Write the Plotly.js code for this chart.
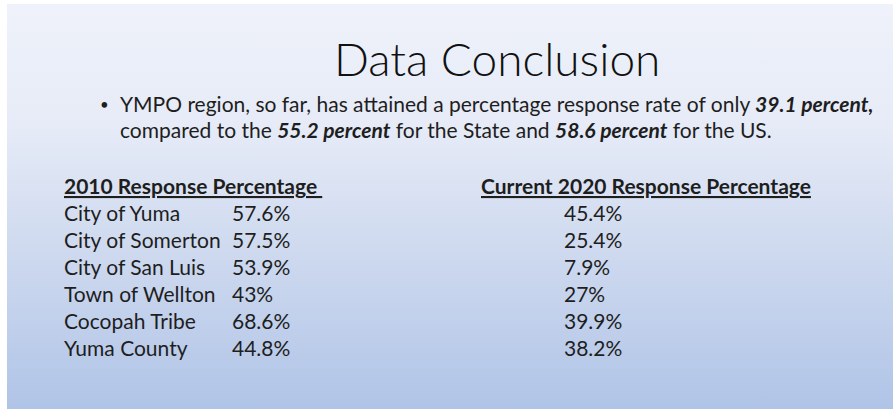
<!DOCTYPE html>
<html>
<head>
<meta charset="utf-8">
<script src="https://cdn.plot.ly/plotly-3.0.1.min.js"></script>
<style>
  html, body { margin: 0; padding: 0; background: #ffffff; }
  #wrap { position: relative; width: 893px; height: 409px; overflow: hidden; }
  #bg { position: absolute; left: 7px; top: 4px; right: 0; bottom: 0;
        background: linear-gradient(to bottom, #eff2fa 0%, #e6ebf7 30%, #cfdaef 60%, #b0c4e7 100%); }
  #plot { position: absolute; left: 0; top: 0; width: 893px; height: 409px; }
</style>
</head>
<body>
<div id="wrap"><div id="bg"></div><div id="plot"></div></div>
<script>
// ---- data ----
const slideTitle = 'Data Conclusion';
const places = ['City of Yuma', 'City of Somerton', 'City of San Luis', 'Town of Wellton', 'Cocopah Tribe', 'Yuma County'];
const pct2010 = [57.6, 57.5, 53.9, 43, 68.6, 44.8];
const pct2020 = [45.4, 25.4, 7.9, 27, 39.9, 38.2];
const headings = ['2010 Response Percentage', 'Current 2020 Response Percentage'];
const regionRate = 39.1;
const stateRate = 55.2;
const usRate = 58.6;

// ---- layout constants (positions / styles) ----
const FONT = 'Lato, "Liberation Sans", sans-serif';
const TXT = '#1e1e1e';
const BODY = 21;
const COL = { label: 62, v2010: 230, head2020: 479, v2020: 562 };
const fmt = v => v + '%';

const ann = [];
// title
ann.push({ xref: 'x', yref: 'y', x: 497, y: -4.75, text: slideTitle, showarrow: false,
  xanchor: 'center', yanchor: 'middle', font: { family: FONT, size: 46, weight: 300, color: '#111' } });
// bullet
ann.push({ xref: 'x', yref: 'y', x: 98, y: -3.05, text: '•', showarrow: false,
  xanchor: 'left', yanchor: 'middle', font: { family: FONT, size: 15, color: TXT } });
ann.push({ xref: 'x', yref: 'y', x: 118, y: -3.05,
  text: 'YMPO region, so far, has attained a percentage response rate of only <b><i>' + regionRate + ' percent,</i></b>',
  showarrow: false, xanchor: 'left', yanchor: 'middle', font: { family: FONT, size: BODY, color: TXT } });
ann.push({ xref: 'x', yref: 'y', x: 118, y: -2.1,
  text: 'compared to the <b><i>' + stateRate + ' percent</i></b> for the State and <b><i>' + usRate + ' percent</i></b> for the US.',
  showarrow: false, xanchor: 'left', yanchor: 'middle', font: { family: FONT, size: BODY, color: TXT } });
// headings
ann.push({ xref: 'x', yref: 'y', x: COL.label, y: 0, text: '<b><u>' + headings[0] + '&nbsp;</u></b>',
  showarrow: false, xanchor: 'left', yanchor: 'middle', font: { family: FONT, size: BODY, color: TXT } });
ann.push({ xref: 'x', yref: 'y', x: COL.head2020, y: 0, text: '<b><u>' + headings[1] + '</u></b>',
  showarrow: false, xanchor: 'left', yanchor: 'middle', font: { family: FONT, size: BODY, color: TXT } });
// rows
places.forEach((p, i) => {
  ann.push({ xref: 'x', yref: 'y', x: COL.label, y: i + 1, text: p, showarrow: false,
    xanchor: 'left', yanchor: 'middle', font: { family: FONT, size: BODY, color: TXT } });
  ann.push({ xref: 'x', yref: 'y', x: COL.v2010, y: i + 1, text: fmt(pct2010[i]), showarrow: false,
    xanchor: 'left', yanchor: 'middle', font: { family: FONT, size: BODY, color: TXT } });
  ann.push({ xref: 'x', yref: 'y', x: COL.v2020, y: i + 1, text: fmt(pct2020[i]), showarrow: false,
    xanchor: 'left', yanchor: 'middle', font: { family: FONT, size: BODY, color: TXT } });
});

const layout = {
  width: 893, height: 409,
  margin: { l: 0, r: 0, t: 0, b: 0 },
  paper_bgcolor: 'rgba(0,0,0,0)', plot_bgcolor: 'rgba(0,0,0,0)',
  showlegend: false,
  xaxis: { range: [0, 893], visible: false, fixedrange: true },
  yaxis: { range: [8.29, -6.914], visible: false, fixedrange: true },
  annotations: ann
};
Plotly.newPlot('plot', [{ x: [], y: [], type: 'scatter', mode: 'markers', hoverinfo: 'skip' }], layout, { displayModeBar: false, staticPlot: true });
</script>
</body>
</html>
